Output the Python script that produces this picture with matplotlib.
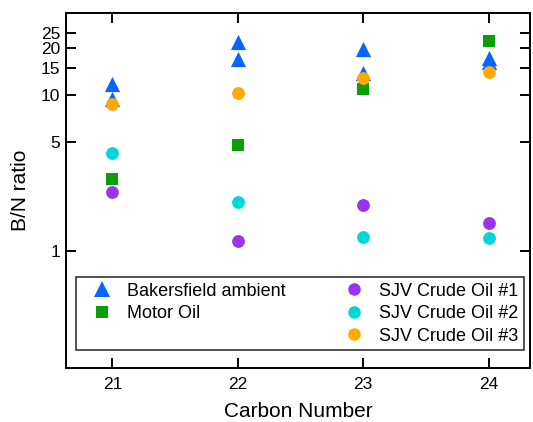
import numpy as np
import matplotlib
matplotlib.use('Agg')
import matplotlib.pyplot as plt
from matplotlib.ticker import FixedLocator, FixedFormatter, NullLocator
from matplotlib.lines import Line2D

plt.rcParams['font.family'] = ['Liberation Sans', 'DejaVu Sans']

# B/N ratios per carbon number
carbon = [21, 22, 23, 24]
bak_x = [21, 21, 22, 22, 23, 23, 24, 24]
bak_y = [11.8, 9.5, 21.8, 17.0, 19.6, 13.8, 17.2, 16.4]
motor_oil = [2.88, 4.8, 10.9, 22.3]
sjv1 = [2.40, 1.16, 1.98, 1.52]
sjv2 = [4.23, 2.07, 1.23, 1.22]
sjv3 = [8.75, 10.35, 12.9, 14.1]

ytick_vals = [1, 5, 10, 15, 20, 25]
ytick_labels = ['1', '5', '10', '15', '20', '25']

fig = plt.figure(figsize=(5.33, 4.22), dpi=100)
ax = fig.add_axes([66/533, 1 - 367.7/422, 464/533, 355/422])

ax.scatter(bak_x, bak_y, marker='^', s=120, color='#0A64FF', linewidths=0, zorder=3)
ax.scatter(carbon, motor_oil, marker='s', s=85, color='#0A9E0A', linewidths=0, zorder=3)
ax.scatter(carbon, sjv1, marker='o', s=85, color='#9933EE', linewidths=0, zorder=3)
ax.scatter(carbon, sjv2, marker='o', s=85, color='#00D8D8', linewidths=0, zorder=3)
ax.scatter(carbon, sjv3, marker='o', s=85, color='#FFAA00', linewidths=0, zorder=3)

ax.set_yscale('log')
ax.set_ylim(0.179, 33.7)
ax.set_xlim(20.63, 24.33)
ax.yaxis.set_major_locator(FixedLocator(ytick_vals))
ax.yaxis.set_major_formatter(FixedFormatter(ytick_labels))
ax.yaxis.set_minor_locator(NullLocator())
ax.set_xticks(carbon)
ax.set_xticklabels([str(c) for c in carbon])

for sp in ax.spines.values():
    sp.set_linewidth(1.4)
ax.tick_params(direction='in', length=7, width=1.4, labelsize=12.5,
               top=True, right=True)
ax.tick_params(axis='x', pad=7)
ax.tick_params(axis='y', pad=4)

ax.set_xlabel('Carbon Number', fontsize=15, labelpad=7)
ax.set_ylabel('B/N ratio', fontsize=15, labelpad=8)

def mk(marker, color, ms):
    return Line2D([], [], marker=marker, color=color, linestyle='none', markersize=ms,
                  markeredgewidth=0)

handles = [mk('^', '#0A64FF', 11), mk('s', '#0A9E0A', 8.5), Line2D([], [], linestyle='none'),
           mk('o', '#9933EE', 9), mk('o', '#00D8D8', 9), mk('o', '#FFAA00', 9)]
labels = ['Bakersfield ambient', 'Motor Oil', '', 'SJV Crude Oil #1',
          'SJV Crude Oil #2', 'SJV Crude Oil #3']
leg = ax.legend(handles, labels, ncol=2, loc='lower left',
                bbox_to_anchor=(0.0216, 0.05, 0.965, 0.202), mode='expand',
                fontsize=13, frameon=True, fancybox=False, edgecolor='black',
                borderpad=0.3, labelspacing=0.3, handletextpad=0.22,
                handlelength=2.3, borderaxespad=0)
leg.get_frame().set_linewidth(1.2)

fig.savefig('out.png', dpi=100)
